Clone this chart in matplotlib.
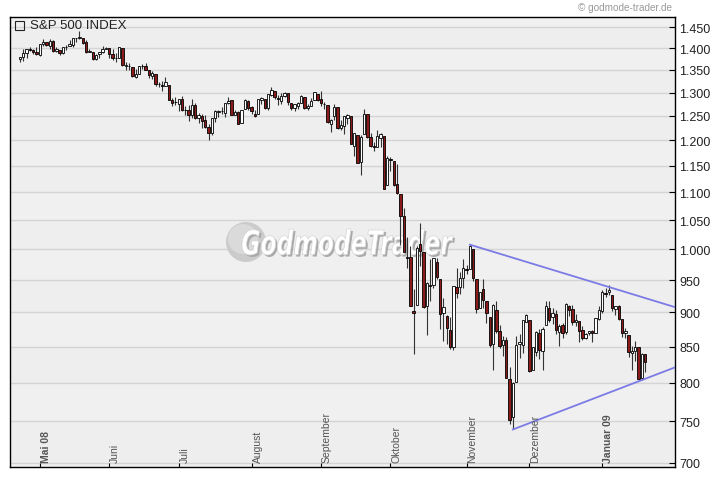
import pandas as pd
import matplotlib
matplotlib.use("Agg")
import matplotlib.pyplot as plt
from matplotlib.patches import Circle, Rectangle, PathPatch
from matplotlib.textpath import TextPath
from matplotlib.font_manager import FontProperties
from matplotlib.ticker import FixedLocator, NullLocator, FuncFormatter
import matplotlib.transforms as mtrans

plt.rcParams["font.family"] = ["Liberation Sans", "DejaVu Sans"]

# trading days, Apr 23 2008 .. Jan 22 2009 (NYSE holidays removed)
holidays = ["2008-05-26", "2008-07-04", "2008-09-01", "2008-11-27",
            "2008-12-25", "2009-01-01", "2009-01-19"]
dates = pd.bdate_range("2008-04-23", "2009-01-22", freq="C", holidays=holidays)

opens = [
    1375, 1380, 1388, 1397, 1395, 1391,
    1385, 1409, 1414, 1405, 1417, 1394, 1395, 1389, 1404, 1405, 1408, 1423, 1425, 1424, 1414, 1390, 1392, 1376, 1386, 1390, 1399,
    1400, 1386, 1377, 1377, 1400, 1360, 1358, 1357, 1335, 1341, 1358, 1360, 1349, 1336, 1341, 1319, 1317, 1314, 1316, 1283, 1279,
    1276, 1285, 1262, 1263, 1252, 1273, 1245, 1249, 1241, 1227, 1215, 1246, 1258, 1261, 1257, 1278, 1283, 1253, 1258, 1235, 1264, 1281,
    1269, 1254, 1254, 1283, 1286, 1266, 1295, 1304, 1288, 1282, 1293, 1298, 1277, 1267, 1272, 1278, 1291, 1267, 1272, 1283, 1297,
    1287, 1276, 1273, 1233, 1249, 1268, 1225, 1230, 1245, 1250, 1189, 1210, 1157, 1213, 1255, 1207, 1188, 1187, 1204, 1209, 1113,
    1164, 1160, 1115, 1098, 1057, 988, 988, 902, 912, 1009, 995, 909, 942, 943, 980, 951, 899, 895, 874, 849, 939, 939, 953,
    968, 967, 1001, 952, 907, 936, 917, 893, 853, 904, 873, 852, 860, 805, 755, 801, 853, 852, 886,
    888, 817, 843, 869, 844, 882, 906, 893, 898, 871, 882, 871, 909, 905, 886, 887, 874, 863, 870, 873, 870, 890,
    902, 929, 931, 927, 905, 909, 890, 869, 867, 841, 844, 849, 806, 839,
]
highs = [
    1380, 1397, 1399, 1402, 1397, 1404,
    1410, 1422, 1415, 1421, 1419, 1402, 1395, 1404, 1407, 1420, 1424, 1425, 1440, 1424, 1419, 1399, 1392, 1387, 1391, 1406, 1404,
    1400, 1397, 1388, 1404, 1400, 1367, 1366, 1357, 1353, 1360, 1364, 1366, 1350, 1347, 1341, 1324, 1326, 1335, 1316, 1289, 1290,
    1285, 1292, 1272, 1274, 1285, 1277, 1257, 1254, 1253, 1234, 1246, 1262, 1262, 1268, 1277, 1291, 1283, 1263, 1260, 1263, 1285, 1284,
    1270, 1263, 1284, 1291, 1286, 1297, 1313, 1304, 1294, 1300, 1302, 1300, 1277, 1276, 1279, 1294, 1291, 1275, 1289, 1300, 1297,
    1303, 1280, 1273, 1244, 1275, 1268, 1241, 1250, 1255, 1250, 1214, 1210, 1211, 1265, 1255, 1214, 1197, 1221, 1215, 1209, 1169,
    1167, 1160, 1153, 1098, 1072, 1021, 1005, 936, 1006, 1045, 995, 947, 984, 985, 985, 951, 922, 896, 893, 941, 970, 963, 984,
    975, 1007, 1001, 952, 931, 951, 917, 893, 913, 917, 882, 865, 864, 821, 801, 865, 868, 888, 897,
    888, 850, 873, 876, 879, 918, 917, 906, 904, 883, 884, 914, 911, 911, 897, 887, 880, 869, 873, 874, 891, 910,
    934, 937, 943, 927, 910, 911, 890, 877, 867, 851, 858, 849, 841, 839,
]
lows = [
    1369, 1371, 1378, 1394, 1386, 1384,
    1383, 1406, 1405, 1397, 1391, 1390, 1384, 1386, 1395, 1405, 1404, 1414, 1421, 1409, 1388, 1390, 1373, 1373, 1378, 1388, 1398,
    1377, 1373, 1368, 1377, 1359, 1351, 1351, 1335, 1331, 1341, 1352, 1350, 1333, 1330, 1314, 1313, 1304, 1314, 1283, 1272, 1274,
    1260, 1261, 1252, 1240, 1245, 1244, 1236, 1225, 1225, 1200, 1211, 1238, 1248, 1255, 1248, 1276, 1252, 1252, 1234, 1235, 1264, 1263,
    1254, 1247, 1254, 1276, 1264, 1263, 1292, 1285, 1274, 1276, 1290, 1274, 1263, 1261, 1264, 1278, 1264, 1263, 1271, 1283, 1282,
    1272, 1265, 1236, 1217, 1241, 1224, 1221, 1213, 1233, 1192, 1169, 1156, 1133, 1213, 1205, 1187, 1179, 1187, 1187, 1106, 1113,
    1140, 1111, 1098, 1007, 996, 970, 909, 840, 912, 972, 907, 866, 918, 937, 952, 875, 858, 853, 846, 845, 922, 928, 938,
    959, 967, 949, 899, 906, 907, 884, 850, 818, 869, 848, 837, 806, 747, 741, 801, 834, 841, 886,
    815, 817, 837, 833, 818, 882, 886, 883, 868, 851, 862, 868, 895, 881, 880, 857, 860, 861, 866, 857, 870, 889,
    899, 924, 927, 902, 896, 888, 864, 862, 836, 818, 830, 804, 804, 814,
]
closes = [
    1380, 1389, 1398, 1396, 1391, 1386,
    1409, 1414, 1408, 1418, 1393, 1398, 1388, 1404, 1403, 1409, 1424, 1425, 1427, 1413, 1391, 1394, 1376, 1385, 1391, 1398, 1400,
    1386, 1378, 1377, 1404, 1361, 1362, 1358, 1336, 1340, 1360, 1360, 1351, 1338, 1343, 1318, 1318, 1314, 1322, 1283, 1278, 1280,
    1285, 1262, 1263, 1252, 1274, 1245, 1253, 1240, 1228, 1215, 1245, 1260, 1261, 1260, 1277, 1282, 1253, 1258, 1234, 1263, 1284, 1267,
    1260, 1249, 1285, 1289, 1266, 1296, 1305, 1290, 1286, 1293, 1298, 1279, 1267, 1275, 1278, 1292, 1267, 1272, 1282, 1301, 1283,
    1278, 1275, 1237, 1242, 1268, 1225, 1232, 1249, 1252, 1193, 1214, 1156, 1207, 1255, 1207, 1188, 1186, 1209, 1213, 1106, 1166,
    1161, 1114, 1099, 1057, 996, 985, 910, 899, 1003, 998, 908, 946, 941, 985, 955, 897, 908, 877, 849, 940, 930, 954, 969,
    966, 1006, 953, 905, 931, 919, 899, 852, 911, 873, 851, 859, 807, 752, 800, 852, 857, 888, 896,
    816, 849, 871, 845, 876, 910, 889, 899, 874, 880, 869, 913, 904, 885, 888, 872, 863, 868, 873, 869, 891, 903,
    932, 928, 935, 907, 910, 890, 870, 872, 843, 844, 850, 805, 840, 828,
]

month_labels = ["Mai 08", "Juni", "Juli", "August", "September",
                "Oktober", "November", "Dezember", "Januar 09"]
bold_months = ["Mai 08", "Januar 09"]

y_ticks = [700, 750, 800, 850, 900, 950, 1000, 1050, 1100, 1150,
           1200, 1250, 1300, 1350, 1400, 1450]

# trend lines: (trading-day index, level)
upper_x = [136, 198]
upper_y = [1008, 908]
lower_x = [149, 198]
lower_y = [740, 821]

x = list(range(len(dates)))

fig = plt.figure(figsize=(7.2, 4.81), dpi=100)
fig.patch.set_facecolor("white")
ax = fig.add_axes([10 / 720, 1 - 468 / 481, 665 / 720, 450 / 481])
ax.set_facecolor("#eeeeee")
ax.set_yscale("log")
ax.set_ylim(695, 1475)
ax.set_xlim(-3, 198)

# light alternating bands between grid lines
bands = [695] + y_ticks + [1475]
for i in range(len(bands) - 1):
    if i % 2 == 0:
        ax.axhspan(bands[i], bands[i + 1], color="#f0f0f0", lw=0, zorder=0)
for t in y_ticks:
    ax.axhline(t, color="#d4d4d4", lw=1, zorder=1)

# watermark (drawn in pixel coordinates)
pix = mtrans.IdentityTransform()
ax.add_patch(Circle((246, 481 - 243), 20, transform=pix,
                    facecolor="#cbcbcb", edgecolor="none", zorder=1.4))
ax.add_patch(Circle((243, 481 - 240), 15, transform=pix,
                    facecolor="#dadada", edgecolor="none", zorder=1.45))
prop = FontProperties(family="DejaVu Sans", weight="bold", style="italic")
tp = TextPath((0, 0), "GodmodeTrader", size=100, prop=prop)
ext = tp.get_extents()
wm = (mtrans.Affine2D().translate(-ext.x0, -ext.y0)
      .scale(211 / ext.width, 26 / ext.height).translate(242, 481 - 256))
ax.add_patch(PathPatch(tp, transform=wm + mtrans.Affine2D().translate(2, -2),
                       facecolor="#a9a9a9", edgecolor="none", zorder=1.5))
ax.add_patch(PathPatch(tp, transform=wm, facecolor="white",
                       edgecolor="#d6d6d6", lw=0.5, zorder=1.6))

# candles
ax.vlines(x, lows, highs, color="#333333", lw=0.8, zorder=3)
up = [c >= o for o, c in zip(opens, closes)]
bottoms = [min(o, c) for o, c in zip(opens, closes)]
heights = [max(abs(c - o), 1.0) for o, c in zip(opens, closes)]
ax.bar(x, heights, bottom=bottoms, width=0.72,
       color=["white" if u else "#8b1a1a" for u in up],
       edgecolor="black", linewidth=0.6, zorder=4)

# trend lines
ax.plot(upper_x, upper_y, color="#7b7be6", lw=1.3, zorder=5)
ax.plot(lower_x, lower_y, color="#7b7be6", lw=1.3, zorder=5)

# axes
ax.yaxis.tick_right()
ax.yaxis.set_major_locator(FixedLocator(y_ticks))
ax.yaxis.set_minor_locator(NullLocator())
ax.yaxis.set_major_formatter(FuncFormatter(
    lambda v, p: f"{int(v):,}".replace(",", ".")))
ax.tick_params(axis="y", direction="in", length=4, width=0.8, pad=3,
               labelsize=9, labelcolor="#222222")

month_pos = []
seen = set()
for i, d in enumerate(dates):
    key = (d.year, d.month)
    if d.month != 4 and key not in seen:
        seen.add(key)
        month_pos.append(i)
ax.set_xticks(month_pos)
ax.set_xticklabels([])
ax.tick_params(axis="x", direction="in", length=3, width=0.8)
trans = mtrans.blended_transform_factory(ax.transData, ax.transAxes)
for pos, lab in zip(month_pos, month_labels):
    ax.text(pos + 0.3, 0.012, lab, transform=trans, rotation=90,
            ha="left", va="bottom", fontsize=7.5, color="#555555",
            fontweight="bold" if lab in bold_months else "normal", zorder=6)

for s in ax.spines.values():
    s.set_color("black")
    s.set_linewidth(1)

# header
ax.add_patch(Rectangle((0.008, 0.971), 0.013, 0.021, transform=ax.transAxes,
                       facecolor="none", edgecolor="#222222", lw=0.8, zorder=6))
ax.text(0.03, 0.982, "S&P 500 INDEX", transform=ax.transAxes,
        ha="left", va="center", fontsize=9.5, color="#222222", zorder=6)
fig.text(672 / 720, 1 - 8 / 481, "\u00a9 godmode-trader.de", ha="right", va="center",
         fontsize=7.2, color="#999999")

fig.savefig("out.png", dpi=100)
